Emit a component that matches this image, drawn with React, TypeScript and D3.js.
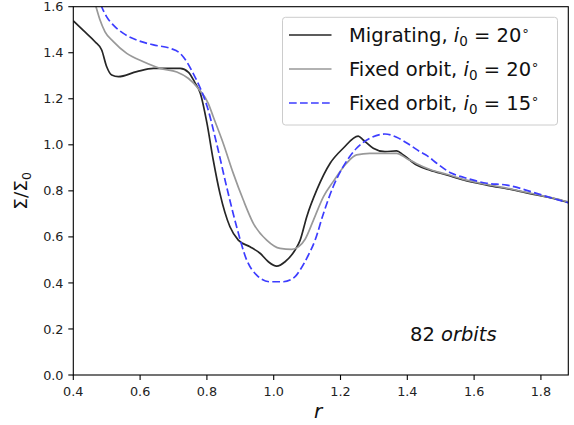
import React from "react";
import * as d3 from "d3";

const migX = [0.4, 0.43, 0.465, 0.485, 0.5, 0.515, 0.535, 0.59, 0.64, 0.72, 0.745, 0.764, 0.78, 0.8, 0.819, 0.839, 0.869, 0.894, 0.929, 0.959, 0.984, 1.009, 1.034, 1.064, 1.079, 1.099, 1.129, 1.169, 1.208, 1.253, 1.268, 1.298, 1.333, 1.368, 1.388, 1.428, 1.468, 1.518, 1.568, 1.638, 1.717, 1.787, 1.837, 1.882];
const migY = [1.539, 1.497, 1.448, 1.412, 1.339, 1.303, 1.296, 1.318, 1.332, 1.332, 1.315, 1.27, 1.225, 1.095, 0.934, 0.789, 0.644, 0.586, 0.557, 0.529, 0.492, 0.473, 0.492, 0.543, 0.585, 0.688, 0.804, 0.92, 0.985, 1.038, 1.021, 0.985, 0.97, 0.974, 0.956, 0.912, 0.89, 0.869, 0.847, 0.825, 0.804, 0.782, 0.767, 0.75];

const fix20X = [0.45, 0.468, 0.48, 0.495, 0.52, 0.56, 0.61, 0.66, 0.71, 0.744, 0.774, 0.804, 0.819, 0.849, 0.879, 0.909, 0.939, 0.979, 1.019, 1.054, 1.075, 1.094, 1.119, 1.149, 1.178, 1.218, 1.248, 1.288, 1.328, 1.368, 1.398, 1.428, 1.468, 1.518, 1.568, 1.638, 1.717, 1.787, 1.837, 1.882];
const fix20Y = [1.7, 1.6, 1.542, 1.491, 1.448, 1.397, 1.361, 1.332, 1.316, 1.289, 1.245, 1.18, 1.122, 1.006, 0.876, 0.76, 0.659, 0.586, 0.55, 0.546, 0.558, 0.59, 0.673, 0.775, 0.84, 0.92, 0.956, 0.963, 0.963, 0.963, 0.941, 0.918, 0.893, 0.872, 0.85, 0.828, 0.806, 0.784, 0.769, 0.752];

const fix15X = [0.465, 0.485, 0.5, 0.52, 0.55, 0.59, 0.64, 0.69, 0.72, 0.74, 0.759, 0.779, 0.8, 0.829, 0.859, 0.889, 0.919, 0.949, 0.989, 1.029, 1.064, 1.079, 1.1, 1.124, 1.149, 1.178, 1.208, 1.248, 1.288, 1.333, 1.368, 1.408, 1.438, 1.46, 1.488, 1.533, 1.568, 1.638, 1.698, 1.747, 1.787, 1.837, 1.882];
const fix15Y = [1.7, 1.6, 1.556, 1.52, 1.484, 1.455, 1.434, 1.419, 1.397, 1.36, 1.31, 1.25, 1.17, 1.006, 0.818, 0.644, 0.5, 0.434, 0.405, 0.405, 0.427, 0.456, 0.51, 0.586, 0.702, 0.818, 0.905, 0.985, 1.028, 1.047, 1.033, 0.999, 0.97, 0.952, 0.92, 0.876, 0.859, 0.833, 0.825, 0.807, 0.789, 0.767, 0.748];

const xTicks = [0.4, 0.6, 0.8, 1.0, 1.2, 1.4, 1.6, 1.8];
const yTicks = [0.0, 0.2, 0.4, 0.6, 0.8, 1.0, 1.2, 1.4, 1.6];

const seriesNames = ["Migrating, ", "Fixed orbit, ", "Fixed orbit, "];
const seriesIncl = ["20", "20", "15"];

const FONT = "DejaVu Sans, sans-serif";

export default function App() {
  const left = 73.3, right = 568.3, top = 6.7, bottom = 375;
  const x = d3.scaleLinear().domain([0.4, 1.882]).range([left, right]);
  const y = d3.scaleLinear().domain([0, 1.6]).range([bottom, top]);
  const line = d3
    .line<[number, number]>()
    .x((d) => x(d[0]))
    .y((d) => y(d[1]))
    .curve(d3.curveMonotoneX);

  const series = [
    { xs: migX, ys: migY, color: "#262626", dash: undefined as string | undefined, width: 1.7 },
    { xs: fix20X, ys: fix20Y, color: "#999999", dash: undefined, width: 1.7 },
    { xs: fix15X, ys: fix15Y, color: "#3d3dff", dash: "7.7 3.3", width: 1.7 },
  ];

  const legendRows = [35, 69, 103];

  return (
    <svg
      width={574}
      height={425}
      style={{ position: "absolute", left: 0, top: 0, background: "#fff" }}
      fontFamily={FONT}
    >
      <defs>
        <clipPath id="plotclip">
          <rect x={left} y={top} width={right - left} height={bottom - top} />
        </clipPath>
      </defs>
      <rect x={0} y={0} width={574} height={425} fill="#fff" />

      <g clipPath="url(#plotclip)">
        {series.map((s, i) => (
          <path
            key={i}
            d={line(s.xs.map((v, j) => [v, s.ys[j]] as [number, number])) || ""}
            fill="none"
            stroke={s.color}
            strokeWidth={s.width}
            strokeDasharray={s.dash}
            strokeLinejoin="round"
          />
        ))}
      </g>

      {/* axes frame */}
      <rect x={left} y={top} width={right - left} height={bottom - top} fill="none" stroke="#000" strokeWidth={1.1} />

      {/* x ticks */}
      {xTicks.map((t) => (
        <g key={"x" + t}>
          <line x1={x(t)} x2={x(t)} y1={bottom} y2={bottom + 5} stroke="#000" strokeWidth={1.1} />
          <text x={x(t)} y={396} textAnchor="middle" fontSize={12.8} fill="#222">
            {t.toFixed(1)}
          </text>
        </g>
      ))}
      {/* y ticks */}
      {yTicks.map((t) => (
        <g key={"y" + t}>
          <line x1={left - 5} x2={left} y1={y(t)} y2={y(t)} stroke="#000" strokeWidth={1.1} />
          <text x={63.5} y={y(t) + 4.6} textAnchor="end" fontSize={12.8} fill="#222">
            {t.toFixed(1)}
          </text>
        </g>
      ))}

      {/* axis labels */}
      <text x={318} y={418} textAnchor="middle" fontSize={20} fontStyle="italic" fill="#111">
        r
      </text>
      <text
        transform={`translate(27, ${(top + bottom) / 2}) rotate(-90)`}
        textAnchor="middle"
        fontSize={18.5}
        fill="#111"
      >
        Σ/Σ<tspan fontSize={12.5} dy={3.5}>0</tspan>
      </text>

      {/* annotation */}
      <text x={410} y={341} fontSize={19.5} fill="#111">
        82 <tspan fontStyle="italic">orbits</tspan>
      </text>

      {/* legend */}
      <rect x={282.5} y={17.3} width={275} height={107.7} rx={3} fill="#fff" fillOpacity={0.8} stroke="#cccccc" strokeWidth={1} />
      {series.map((s, i) => (
        <g key={"leg" + i}>
          <line
            x1={289}
            x2={331.5}
            y1={legendRows[i]}
            y2={legendRows[i]}
            stroke={s.color}
            strokeWidth={s.width}
            strokeDasharray={s.dash}
          />
          <text x={349} y={legendRows[i] + 7} fontSize={19.5} fill="#111">
            {seriesNames[i]}
            <tspan fontStyle="italic">i</tspan>
            <tspan fontSize={13.5} dy={3.5}>0</tspan>
            <tspan dy={-3.5}> = {seriesIncl[i]}</tspan>
            <tspan fontSize={13} dy={-7}>∘</tspan>
          </text>
        </g>
      ))}
    </svg>
  );
}
